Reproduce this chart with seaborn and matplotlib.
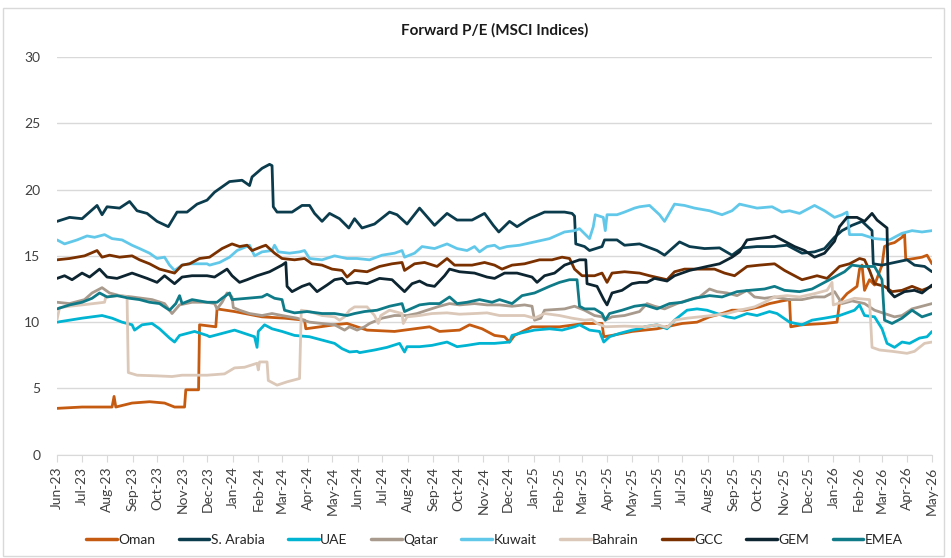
import numpy as np
import pandas as pd
import matplotlib.pyplot as plt
import matplotlib.dates as mdates
from matplotlib.patches import Rectangle
import seaborn as sns

# Valores: (meses desde jun-23, P/E forward)
oman = [(0, 3.5), (1, 3.6), (2.2, 3.6), (2.28, 4.4), (2.35, 3.6), (3, 3.9), (3.7, 4.0), (4.3, 3.9),
        (4.7, 3.6), (5.1, 3.6), (5.15, 4.9), (5.66, 4.9), (5.7, 9.8), (6.35, 9.65), (6.4, 11.0),
        (7.1, 10.8), (8.2, 10.4), (9.1, 10.3), (9.9, 10.15), (9.95, 9.5), (11.1, 9.8), (11.6, 9.9),
        (12.4, 9.4), (13.5, 9.3), (14.9, 9.65), (15.3, 9.3), (16.1, 9.4), (16.5, 9.8), (17.0, 9.5),
        (17.5, 9.0), (17.9, 8.9), (18.1, 8.5), (18.3, 9.0), (19.0, 9.65), (20.1, 9.65), (21.1, 9.9),
        (21.8, 9.9), (21.87, 8.9), (22.2, 9.0), (23.0, 9.3), (24.0, 9.5), (25.0, 9.9), (25.6, 10.0),
        (26.1, 10.4), (26.6, 10.65), (27.0, 10.9), (27.5, 10.9), (28.1, 11.15), (28.5, 11.4),
        (29.0, 11.6), (29.3, 11.7), (29.35, 9.65), (29.8, 9.8), (30.7, 9.9), (31.2, 10.0),
        (31.3, 11.5), (31.6, 12.15), (32.0, 12.7), (32.1, 14.0), (32.2, 14.3), (32.3, 12.4),
        (32.5, 13.2), (32.7, 12.8), (33.0, 14.3), (33.1, 15.7), (33.3, 15.9), (33.5, 16.0),
        (33.8, 16.4), (33.9, 16.7), (33.95, 14.7), (34.3, 14.8), (34.6, 14.9), (34.8, 15.05), (35.0, 14.4)]

s_arabia = [(0, 17.6), (0.5, 17.9), (1, 17.8), (1.6, 18.8), (1.8, 18.1), (2.0, 18.7), (2.5, 18.6),
            (2.9, 19.1), (3.2, 18.4), (3.6, 18.2), (4.0, 17.6), (4.45, 17.2), (4.8, 18.3), (5.2, 18.3),
            (5.6, 18.9), (6.0, 19.2), (6.3, 19.8), (6.9, 20.6), (7.4, 20.7), (7.7, 20.3), (7.8, 20.95),
            (8.2, 21.6), (8.5, 21.9), (8.6, 21.8), (8.65, 18.7), (8.8, 18.3), (9.4, 18.3), (9.8, 18.8),
            (10.1, 18.8), (10.3, 18.2), (10.6, 17.6), (10.9, 18.2), (11.3, 17.8), (11.67, 17.1),
            (11.9, 17.8), (12.2, 17.1), (12.7, 17.4), (13.3, 18.3), (13.6, 18.1), (14.0, 17.4),
            (14.5, 18.6), (15.1, 17.3), (15.6, 18.2), (16.0, 17.7), (16.6, 17.7), (17.1, 18.2),
            (17.45, 17.3), (17.67, 16.8), (18.1, 17.6), (18.4, 17.2), (18.9, 17.8), (19.5, 18.3),
            (20.3, 18.3), (20.6, 18.2), (20.7, 18.0), (20.75, 15.9), (21.1, 15.7), (21.3, 15.4),
            (21.8, 15.7), (21.9, 16.2), (22.4, 16.2), (22.7, 15.8), (23.3, 15.9), (24.0, 15.4),
            (24.3, 15.05), (24.9, 16.05), (25.3, 15.7), (25.9, 15.55), (26.5, 15.6), (27.0, 15.05),
            (27.4, 15.6), (28.0, 15.7), (28.7, 15.7), (29.2, 15.8), (29.8, 15.2), (30.3, 15.3),
            (30.7, 15.55), (31.1, 16.4), (31.4, 16.9), (31.8, 17.3), (32.2, 17.6), (32.6, 16.9),
            (32.65, 14.4), (33.0, 14.3), (33.5, 14.5), (34.0, 14.7), (34.3, 14.3), (34.7, 14.2), (35.0, 13.8)]

uae = [(0, 10.0), (0.5, 10.15), (1.0, 10.3), (1.4, 10.4), (1.8, 10.5), (2.2, 10.3), (2.6, 10.0),
       (3.0, 9.8), (3.1, 9.4), (3.4, 9.8), (3.8, 9.9), (4.1, 9.5), (4.5, 8.8), (4.7, 8.5), (4.9, 9.0),
       (5.5, 9.3), (6.0, 9.0), (6.1, 8.9), (6.6, 9.15), (7.1, 9.4), (7.5, 9.15), (7.9, 8.9), (8.0, 8.1),
       (8.05, 9.3), (8.3, 9.8), (8.6, 9.5), (9.0, 9.3), (9.5, 9.0), (10.1, 8.9), (10.6, 8.65),
       (11.1, 8.4), (11.4, 8.0), (11.7, 7.75), (12.0, 7.8), (12.1, 7.7), (12.7, 7.9), (13.2, 8.1),
       (13.7, 8.4), (13.9, 7.75), (14.0, 8.15), (14.5, 8.15), (15.0, 8.25), (15.6, 8.5), (16.0, 8.15),
       (16.4, 8.25), (16.9, 8.4), (17.5, 8.4), (18.1, 8.5), (18.2, 9.0), (18.6, 9.2), (19.1, 9.4),
       (19.7, 9.5), (20.2, 9.4), (20.7, 9.65), (20.9, 9.8), (21.3, 9.4), (21.7, 9.3), (21.87, 8.5),
       (22.1, 8.9), (22.5, 9.15), (23.0, 9.4), (23.3, 9.5), (23.5, 9.65), (24.0, 9.8), (24.4, 9.5),
       (24.7, 10.15), (25.2, 10.9), (25.6, 11.0), (26.0, 10.9), (26.4, 10.65), (26.8, 10.4),
       (27.1, 10.3), (27.6, 10.65), (28.0, 10.5), (28.5, 10.8), (28.8, 10.65), (29.3, 10.0),
       (29.8, 9.8), (30.2, 10.15), (30.7, 10.3), (31.3, 10.5), (31.9, 10.9), (32.1, 11.3),
       (32.3, 10.5), (32.7, 10.4), (33.0, 9.5), (33.2, 8.4), (33.5, 8.1), (33.8, 8.5), (34.1, 8.4),
       (34.5, 8.8), (34.8, 8.9), (35.0, 9.3)]

qatar = [(0, 11.5), (0.5, 11.4), (1.1, 11.7), (1.4, 12.2), (1.8, 12.6), (2.1, 12.2), (2.5, 12.0),
         (3.0, 11.9), (3.4, 11.8), (3.8, 11.7), (4.3, 11.4), (4.6, 10.65), (4.9, 11.3), (5.4, 11.5),
         (6.0, 11.5), (6.3, 11.4), (6.4, 11.0), (6.6, 11.5), (6.8, 12.2), (7.0, 11.9), (7.05, 11.1),
         (7.3, 10.9), (7.7, 10.65), (8.2, 10.5), (8.6, 10.65), (9.0, 10.5), (9.6, 10.3), (10.1, 10.0),
         (10.6, 9.9), (11.1, 9.8), (11.5, 9.4), (11.7, 9.65), (12.0, 9.4), (12.3, 9.65), (12.5, 9.9),
         (13.0, 10.3), (13.5, 10.5), (14.0, 10.5), (14.4, 10.65), (14.8, 10.9), (15.3, 11.2),
         (15.7, 11.4), (16.1, 11.3), (16.7, 11.4), (17.2, 11.3), (17.7, 11.3), (18.2, 11.2),
         (18.7, 11.3), (19.0, 11.2), (19.1, 10.15), (19.35, 10.3), (19.5, 10.9), (20.3, 11.0),
         (20.7, 11.2), (21.1, 10.9), (21.5, 10.5), (21.8, 10.4), (21.93, 10.15), (22.2, 10.4),
         (22.7, 10.5), (23.3, 10.8), (23.6, 11.4), (23.9, 11.2), (24.3, 11.0), (24.8, 11.4),
         (25.3, 11.7), (25.7, 11.9), (26.1, 12.5), (26.4, 12.3), (26.8, 12.2), (27.2, 12.0),
         (27.6, 12.4), (27.9, 11.9), (28.3, 11.8), (28.7, 11.9), (29.3, 11.7), (29.8, 11.7),
         (30.3, 11.9), (30.7, 11.9), (31.1, 12.3), (31.4, 11.4), (31.8, 11.6), (32.3, 11.4),
         (32.7, 10.9), (33.1, 10.65), (33.5, 10.4), (33.8, 10.5), (34.2, 11.0), (34.6, 11.2), (35.0, 11.4)]

kuwait = [(0, 16.2), (0.3, 15.9), (0.8, 16.2), (1.2, 16.5), (1.5, 16.4), (1.9, 16.6), (2.2, 16.3),
          (2.6, 16.2), (3.0, 15.8), (3.3, 15.55), (3.7, 15.2), (4.0, 14.8), (4.3, 14.9), (4.5, 14.3),
          (4.7, 13.9), (5.0, 14.3), (5.3, 14.4), (6.0, 14.4), (6.1, 14.3), (6.5, 14.5), (6.9, 14.9),
          (7.2, 15.4), (7.7, 15.8), (7.9, 15.0), (8.2, 15.3), (8.6, 15.4), (8.7, 15.8), (8.85, 15.3),
          (9.3, 15.2), (9.7, 15.3), (9.9, 15.4), (10.1, 14.8), (10.6, 14.7), (11.1, 15.0), (11.6, 14.8),
          (12.0, 14.8), (12.5, 14.7), (13.0, 15.05), (13.5, 15.2), (13.8, 15.4), (13.9, 14.9),
          (14.3, 15.2), (14.6, 15.7), (15.1, 15.55), (15.6, 15.9), (16.0, 15.55), (16.4, 15.4),
          (16.7, 15.7), (16.9, 15.3), (17.2, 15.7), (17.5, 15.8), (17.7, 15.55), (18.0, 15.7),
          (18.5, 15.8), (19.1, 16.05), (19.7, 16.3), (20.0, 16.55), (20.3, 16.8), (20.7, 16.9),
          (20.9, 17.05), (21.3, 16.3), (21.45, 17.2), (21.53, 18.1), (21.85, 17.9), (21.93, 16.9),
          (22.0, 18.1), (22.4, 18.1), (22.7, 18.3), (23.1, 18.6), (23.3, 18.7), (23.7, 18.8),
          (24.1, 18.1), (24.3, 17.6), (24.7, 18.9), (25.1, 18.8), (25.5, 18.6), (26.1, 18.4),
          (26.6, 18.1), (27.0, 18.4), (27.3, 18.9), (28.0, 18.6), (28.6, 18.7), (29.0, 18.3),
          (29.3, 18.4), (29.7, 18.2), (30.1, 18.6), (30.3, 18.8), (30.7, 18.4), (31.1, 17.9),
          (31.4, 18.1), (31.6, 18.3), (31.7, 16.6), (32.2, 16.6), (32.7, 16.3), (33.3, 16.2),
          (33.8, 16.7), (34.2, 16.9), (34.6, 16.8), (35.0, 16.9)]

bahrain = [(0, 10.2), (0.1, 11.1), (0.5, 11.2), (1.0, 11.3), (1.9, 11.5), (1.95, 11.9), (2.5, 12.0),
           (2.8, 11.9), (2.85, 6.2), (3.2, 6.0), (4.0, 5.95), (4.6, 5.9), (5.0, 6.0), (6.0, 6.0),
           (6.7, 6.1), (7.1, 6.55), (7.5, 6.6), (8.0, 6.9), (8.05, 6.4), (8.1, 7.0), (8.4, 7.0),
           (8.45, 5.6), (8.8, 5.25), (9.2, 5.5), (9.7, 5.75), (9.77, 10.9), (10.1, 10.8), (10.6, 10.5),
           (11.1, 10.4), (11.3, 10.15), (11.5, 10.4), (11.7, 10.9), (11.9, 11.15), (12.4, 11.15),
           (12.7, 10.5), (12.85, 9.9), (12.95, 10.5), (13.3, 10.9), (13.8, 10.65), (13.85, 9.9),
           (14.0, 10.4), (14.5, 10.5), (15.0, 10.65), (15.6, 10.7), (16.1, 10.6), (16.7, 10.65),
           (17.2, 10.7), (17.7, 10.5), (18.7, 10.5), (19.1, 10.3), (19.5, 10.65), (20.1, 10.5),
           (20.6, 10.3), (21.1, 10.15), (21.4, 10.2), (21.6, 9.9), (21.93, 9.65), (22.7, 9.7),
           (23.5, 9.65), (24.0, 9.8), (24.4, 9.6), (24.7, 10.15), (25.2, 10.3), (25.7, 10.4),
           (26.2, 10.5), (26.8, 10.65), (27.3, 10.9), (27.9, 11.15), (28.3, 11.5), (28.7, 11.9),
           (29.2, 12.0), (29.7, 11.9), (30.3, 12.15), (30.8, 12.4), (31.0, 13.0), (31.05, 11.3),
           (31.4, 11.5), (31.9, 11.8), (32.5, 11.7), (32.6, 8.1), (32.9, 7.9), (33.4, 7.8),
           (34.0, 7.65), (34.3, 7.8), (34.7, 8.4), (35.0, 8.5)]

gcc = [(0, 14.7), (0.5, 14.8), (1.1, 15.0), (1.6, 15.4), (1.8, 14.9), (2.1, 15.05), (2.5, 14.9),
       (3.0, 15.0), (3.3, 14.7), (3.7, 14.4), (4.1, 14.0), (4.5, 13.8), (4.7, 13.7), (5.0, 14.3),
       (5.3, 14.4), (5.7, 14.8), (6.1, 14.9), (6.6, 15.55), (7.0, 15.9), (7.3, 15.7), (7.6, 15.8),
       (7.8, 15.4), (8.2, 15.7), (8.35, 15.8), (8.7, 15.2), (9.0, 14.8), (9.5, 14.7), (9.9, 14.8),
       (10.2, 14.4), (10.6, 14.3), (11.0, 14.0), (11.4, 13.9), (11.6, 13.4), (11.9, 13.9),
       (12.4, 13.8), (12.9, 14.2), (13.4, 14.4), (13.8, 14.5), (13.9, 13.9), (14.3, 14.4),
       (14.7, 14.5), (15.2, 14.2), (15.6, 14.8), (15.9, 14.3), (16.6, 14.3), (17.1, 14.5),
       (17.5, 14.3), (17.8, 14.0), (18.2, 14.3), (18.7, 14.4), (19.3, 14.7), (19.8, 14.7),
       (20.2, 14.9), (20.5, 14.8), (20.7, 14.0), (21.0, 13.5), (21.5, 13.5), (21.8, 13.7),
       (22.0, 13.0), (22.2, 13.7), (22.7, 13.8), (23.3, 13.7), (23.7, 13.5), (24.4, 13.2),
       (24.7, 13.8), (25.1, 14.0), (25.6, 14.0), (26.3, 14.0), (26.7, 13.7), (27.1, 13.5),
       (27.6, 14.2), (28.1, 14.3), (28.7, 14.4), (29.1, 13.9), (29.5, 13.5), (29.8, 13.2),
       (30.4, 13.5), (30.8, 13.3), (31.3, 14.2), (31.7, 14.4), (32.1, 14.8), (32.3, 14.7),
       (32.5, 13.9), (32.7, 12.9), (33.1, 12.7), (33.4, 12.3), (33.8, 12.4), (34.2, 12.7),
       (34.6, 12.4), (35.0, 12.7)]

gem = [(0, 13.3), (0.3, 13.5), (0.6, 13.2), (1.0, 13.7), (1.3, 13.4), (1.7, 14.0), (2.0, 13.4),
       (2.4, 13.3), (3.0, 13.7), (3.3, 13.5), (3.6, 13.3), (4.0, 13.0), (4.3, 13.5), (4.7, 12.9),
       (5.0, 13.4), (5.4, 13.5), (6.0, 13.5), (6.3, 13.4), (6.8, 14.0), (7.0, 13.5), (7.3, 13.0),
       (7.6, 13.2), (8.0, 13.5), (8.5, 13.8), (9.0, 14.3), (9.15, 14.5), (9.2, 12.7), (9.4, 12.3),
       (9.8, 12.7), (10.1, 12.9), (10.4, 12.3), (10.8, 12.8), (11.1, 13.2), (11.4, 13.3),
       (11.6, 12.9), (12.0, 13.0), (12.4, 12.9), (12.9, 13.3), (13.4, 13.2), (13.9, 12.3),
       (14.2, 12.9), (14.5, 13.1), (14.8, 12.8), (15.1, 12.7), (15.5, 13.5), (15.7, 14.0),
       (16.1, 13.8), (16.7, 13.7), (17.2, 13.4), (17.5, 13.3), (17.9, 13.7), (18.4, 13.7),
       (19.0, 13.4), (19.2, 13.0), (19.5, 13.5), (19.9, 13.7), (20.3, 14.3), (20.6, 14.5),
       (20.9, 14.7), (21.15, 14.7), (21.2, 12.9), (21.6, 12.7), (21.87, 11.7), (22.0, 11.3),
       (22.2, 12.2), (22.6, 12.4), (23.0, 12.9), (23.3, 13.0), (23.6, 13.0), (23.9, 13.3),
       (24.4, 13.1), (24.7, 13.5), (25.3, 13.9), (26.0, 14.2), (26.5, 14.4), (27.0, 14.9),
       (27.3, 15.3), (27.6, 16.2), (28.0, 16.3), (28.5, 16.4), (28.7, 16.5), (29.0, 16.2),
       (29.5, 15.7), (29.9, 15.4), (30.3, 14.9), (30.7, 15.2), (31.1, 16.1), (31.3, 17.2),
       (31.6, 17.9), (32.0, 17.9), (32.3, 17.6), (32.6, 18.2), (32.8, 17.7), (33.2, 17.1),
       (33.25, 12.4), (33.5, 11.9), (33.9, 12.3), (34.3, 12.4), (34.6, 12.2), (35.0, 12.8)]

emea = [(0, 11.0), (0.5, 11.3), (1.0, 11.5), (1.4, 11.8), (1.7, 12.2), (2.0, 11.9), (2.4, 12.0),
        (2.9, 11.8), (3.3, 11.7), (3.7, 11.5), (4.1, 11.4), (4.5, 10.9), (4.75, 11.4), (4.9, 12.0),
        (5.0, 11.4), (5.4, 11.7), (6.0, 11.5), (6.4, 11.5), (6.6, 11.8), (6.9, 12.2), (7.0, 11.7),
        (7.6, 11.8), (8.2, 11.9), (8.4, 12.1), (8.7, 11.8), (9.0, 11.7), (9.1, 10.9), (9.5, 10.7),
        (10.0, 10.8), (10.6, 10.65), (11.1, 10.65), (11.6, 10.5), (11.9, 10.65), (12.3, 10.8),
        (12.8, 10.9), (13.3, 11.2), (13.8, 11.4), (13.9, 10.8), (14.5, 11.3), (14.9, 11.4),
        (15.3, 11.4), (15.7, 11.9), (16.0, 11.4), (16.4, 11.5), (16.9, 11.7), (17.4, 11.5),
        (17.7, 11.7), (18.2, 11.4), (18.6, 12.0), (19.1, 12.2), (19.7, 12.7), (20.1, 13.0),
        (20.5, 13.2), (20.8, 13.2), (20.9, 11.2), (21.1, 11.0), (21.5, 11.0), (21.8, 10.65),
        (21.93, 10.15), (22.1, 10.65), (22.6, 10.9), (23.1, 11.2), (23.5, 11.3), (24.0, 11.0),
        (24.5, 11.4), (25.0, 11.5), (25.5, 11.8), (26.1, 12.0), (26.6, 11.9), (27.2, 12.3),
        (27.7, 12.4), (28.3, 12.5), (28.7, 12.7), (29.1, 12.4), (29.7, 12.3), (30.2, 12.5),
        (30.7, 13.0), (31.1, 13.4), (31.5, 13.8), (31.8, 14.3), (32.2, 14.2), (32.7, 14.2),
        (33.0, 13.2), (33.1, 10.15), (33.4, 9.9), (33.8, 10.3), (34.2, 10.9), (34.6, 10.4), (35.0, 10.65)]

names = ['Oman', 'S. Arabia', 'UAE', 'Qatar', 'Kuwait', 'Bahrain', 'GCC', 'GEM', 'EMEA']
series = [oman, s_arabia, uae, qatar, kuwait, bahrain, gcc, gem, emea]
colors = ['#c55a11', '#0b3c4d', '#00b4d2', '#a89a8c', '#62c8ea', '#dcc8b8', '#7b3000', '#0c2530', '#0f7b88']

# Armar un DataFrame largo
start = pd.Timestamp('2023-06-01')
rows = []
for name, pts in zip(names, series):
    for m, v in pts:
        rows.append({'Fecha': start + pd.Timedelta(days=m * 30.43), 'PE': v, 'Indice': name})
df = pd.DataFrame(rows)

sns.set_style('white')
plt.rcParams['font.family'] = ['Lato', 'DejaVu Sans']

fig, ax = plt.subplots(figsize=(9.51, 5.58), dpi=100)
fig.subplots_adjust(left=0.06, right=0.98, top=0.898, bottom=0.185)

sns.lineplot(data=df, x='Fecha', y='PE', hue='Indice', hue_order=names,
             palette=dict(zip(names, colors)), estimator=None, sort=False,
             linewidth=2.0, ax=ax)

ax.set_xlim(start, pd.Timestamp('2026-05-01'))
ax.set_ylim(0, 30)
ax.set_yticks(range(0, 31, 5))
ax.xaxis.set_major_locator(mdates.MonthLocator())
ax.xaxis.set_major_formatter(mdates.DateFormatter('%b-%y'))
ax.tick_params(axis='x', rotation=90, labelsize=10, colors='#404040', length=5,
               color='#d9d9d9', direction='out', bottom=True)
ax.tick_params(axis='y', labelsize=10, colors='#404040', length=0, pad=12)
ax.grid(axis='y', color='#d9d9d9', linewidth=1)
ax.set_axisbelow(True)
for s in ['top', 'right', 'left']:
    ax.spines[s].set_visible(False)
ax.spines['bottom'].set_color('#d9d9d9')
ax.set_xlabel('')
ax.set_ylabel('')

fig.suptitle('Forward P/E (MSCI Indices)', x=0.52, y=0.958, fontsize=11, fontweight='bold', color='#1a1a1a')

sns.move_legend(ax, 'lower center', bbox_to_anchor=(0.52, 0.0), bbox_transform=fig.transFigure,
                ncol=9, frameon=False, title=None, fontsize=10, handlelength=2.2,
                handletextpad=0.1, columnspacing=1.7)
for line in ax.get_legend().get_lines():
    line.set_linewidth(2.5)

fig.patches.append(Rectangle((0.003, 0.003), 0.99, 0.982, transform=fig.transFigure,
                             fill=False, edgecolor='#d9d9d9', linewidth=1))

fig.savefig('out.png', dpi=100)
